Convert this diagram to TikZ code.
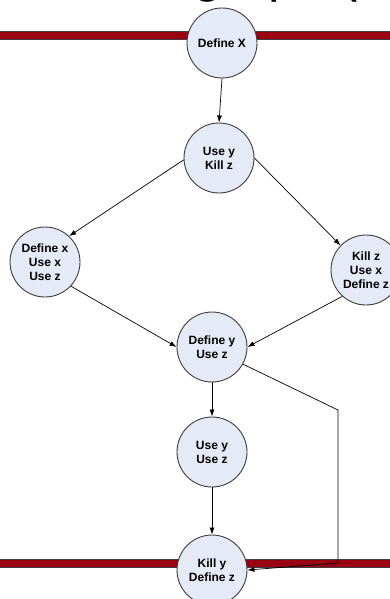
\documentclass[tikz,border=0pt]{standalone}
\usepackage{fontspec}
\setmainfont{Liberation Sans}
\usepackage{tikz}
\usetikzlibrary{
  shapes.geometric,
  arrows.meta,
  positioning
}
\definecolor{NodeFill}{RGB}{228, 235, 246}
\definecolor{NodeLine}{RGB}{60, 60, 60}
\definecolor{BarRed}{RGB}{153, 0, 18}
\definecolor{BarEdge}{RGB}{64, 64, 64}
\tikzset{
    stmt/.style={circle, draw=NodeLine, line width=0.9pt, fill=NodeFill, minimum size=70pt,
        inner sep=0pt, align=center, font=\fontsize{12}{14}\selectfont\bfseries},
    flowline/.style={draw=black, line width=0.7pt, -{Latex[length=7pt, width=5pt]}},
    bar/.style={draw=BarEdge, line width=0.8pt, fill=BarRed}
}

\begin{document}
\begin{tikzpicture}[x=1pt, y=-1pt]
            \useasboundingbox (0,0) rectangle (390,599);
            \clip (0,0) rectangle (390,599);
            % title, cut off at the top
            \node[anchor=base west, inner sep=0pt, font=\fontsize{52}{60}\selectfont] (title) at (193,-8) {graph (};
            % red bars
            \draw[bar] (-5,31) rectangle (395,39);
            \draw[bar] (-5,559) rectangle (395,567);
            % statements
            \node[stmt] (defX) at (222,43) {Define X};
            \node[stmt] (useKill) at (219,158) {Use y\\Kill z};
            \node[stmt] (defx) at (45,262) {Define x\\Use x\\Use z};
            \node[stmt] (killz) at (366,270) {Kill z\\Use x\\Define z};
            \node[stmt] (defy) at (212,347) {Define y\\Use z};
            \node[stmt] (useUse) at (212,452) {Use y\\Use z};
            \node[stmt] (killy) at (212,570) {Kill y\\Define z};
            \coordinate (bendA) at (338,410);
            \coordinate (bendB) at (338,563);
            % edges
            \draw[flowline] (defX.south) -- (useKill.north);
            \draw[flowline] (useKill.183) -- (defx.47);
            \draw[flowline] (useKill.0) -- (killz.136);
            \draw[flowline] (defx.-43) -- (defy.west);
            \draw[flowline] (killz.228) -- (defy.east);
            \draw[flowline] (defy.south) -- (useUse.north);
            \draw[flowline] (useUse.south) -- (killy.north);
            \draw[flowline] (defy.-29) -- (bendA) -- (bendB) -- (killy.east);
        \end{tikzpicture}
\end{document}
